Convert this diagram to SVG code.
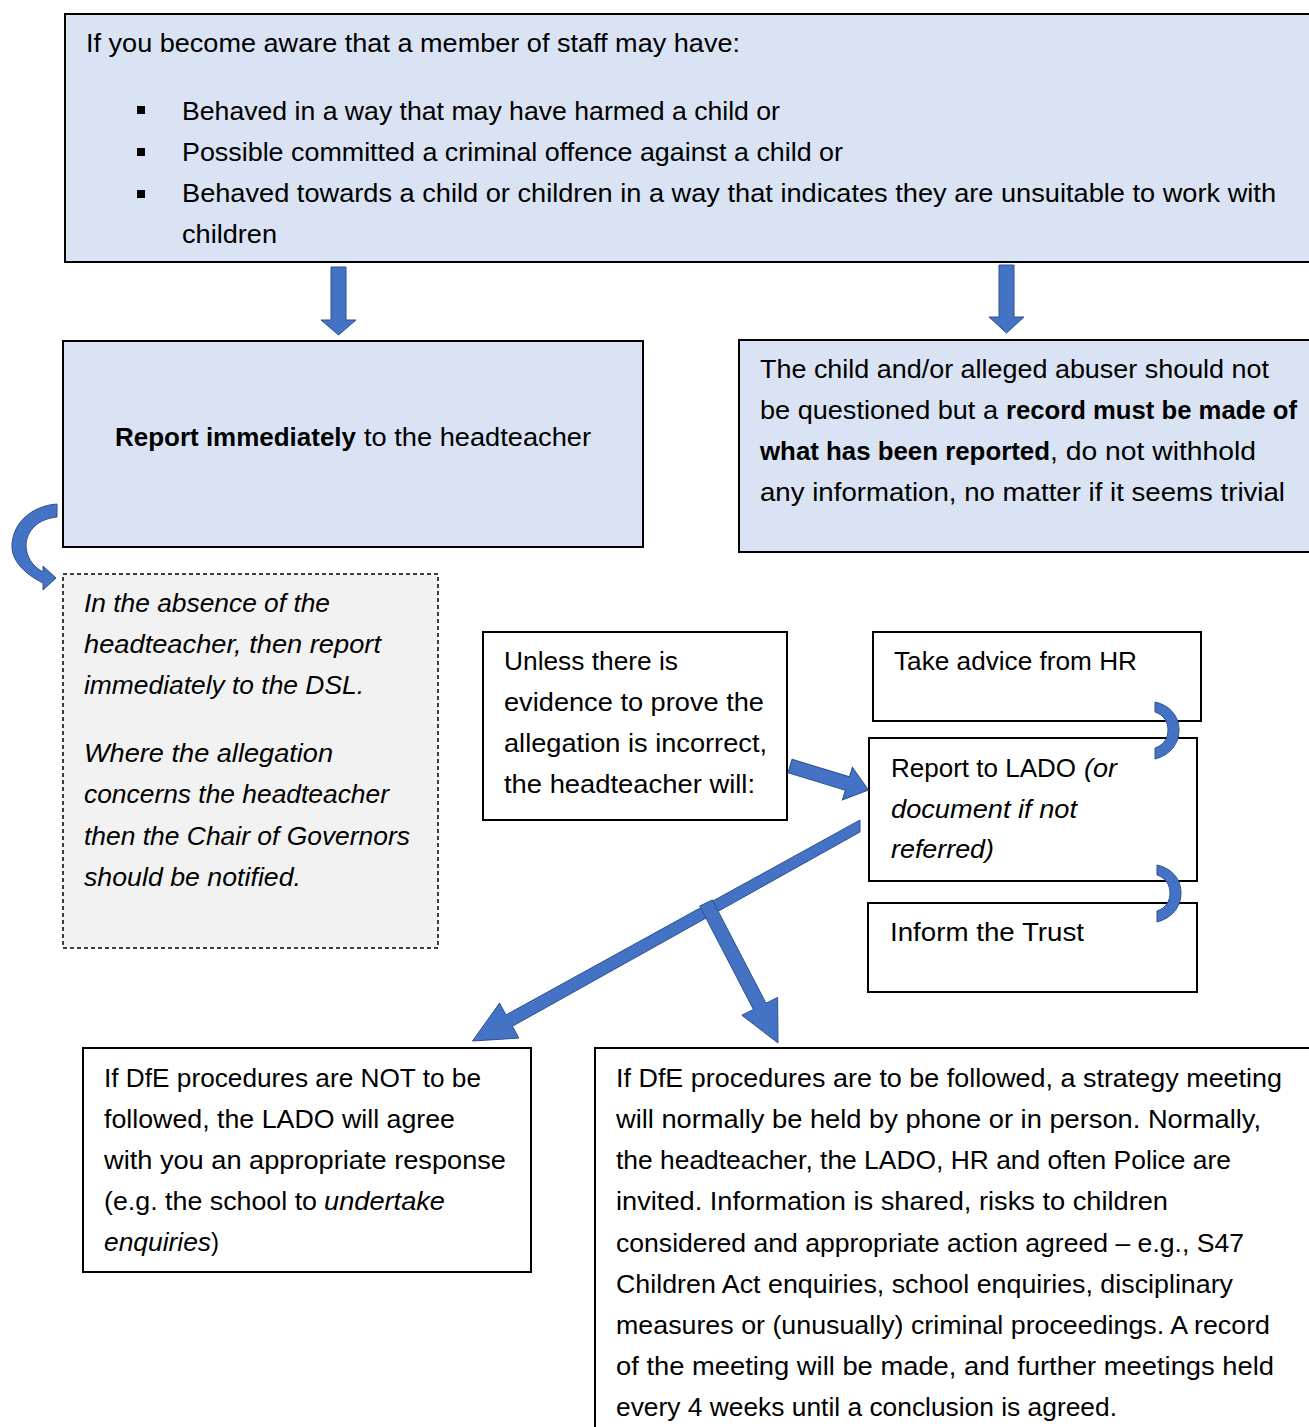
<svg xmlns="http://www.w3.org/2000/svg" width="1309" height="1427" viewBox="0 0 1309 1427">
<style>
text{font-family:"Liberation Sans",Arial,sans-serif;font-size:25px;fill:#000}
.b{font-weight:bold}
.i{font-style:italic}
.box{fill:#dae3f3;stroke:#000;stroke-width:2}
.wbox{fill:#fff;stroke:#000;stroke-width:2}
.dbox{fill:#f2f2f2;stroke:#000;stroke-width:1.5;stroke-dasharray:4 3}
.arr{fill:#4472c4;stroke:#2f528f;stroke-width:1}
</style>
<rect width="1309" height="1427" fill="#fff"/>

<g id="node-concern">
<rect class="box" x="65" y="14" width="1260" height="248"/>
<text x="86" y="52" textLength="654" lengthAdjust="spacingAndGlyphs">If you become aware that a member of staff may have:</text>
<rect x="137" y="106" width="8" height="8" fill="#000"/>
<rect x="137" y="148" width="8" height="8" fill="#000"/>
<rect x="137" y="190" width="8" height="8" fill="#000"/>
<text x="182" y="120" textLength="598" lengthAdjust="spacingAndGlyphs">Behaved in a way that may have harmed a child or</text>
<text x="182" y="161" textLength="661" lengthAdjust="spacingAndGlyphs">Possible committed a criminal offence against a child or</text>
<text x="182" y="202" textLength="1094" lengthAdjust="spacingAndGlyphs">Behaved towards a child or children in a way that indicates they are unsuitable to work with</text>
<text x="182" y="243" textLength="95" lengthAdjust="spacingAndGlyphs">children</text>
</g>

<g id="node-report">
<rect class="box" x="63" y="341" width="580" height="206"/>
<text class="b" x="115" y="446" textLength="241" lengthAdjust="spacingAndGlyphs">Report immediately</text>
<text x="364" y="446" textLength="227" lengthAdjust="spacingAndGlyphs">to the headteacher</text>
</g>

<g id="node-record">
<rect class="box" x="739" y="340" width="590" height="212"/>
<text x="760" y="378" textLength="509" lengthAdjust="spacingAndGlyphs">The child and/or alleged abuser should not</text>
<text x="760" y="419" textLength="238" lengthAdjust="spacingAndGlyphs">be questioned but a</text>
<text class="b" x="1006" y="419" textLength="291" lengthAdjust="spacingAndGlyphs">record must be made of</text>
<text class="b" x="760" y="460" textLength="290" lengthAdjust="spacingAndGlyphs">what has been reported</text>
<text x="1050" y="460" textLength="206" lengthAdjust="spacingAndGlyphs">, do not withhold</text>
<text x="760" y="501" textLength="525" lengthAdjust="spacingAndGlyphs">any information, no matter if it seems trivial</text>
</g>

<g id="node-absence">
<rect class="dbox" x="63" y="574" width="375" height="374"/>
<text class="i" x="84" y="612" textLength="246" lengthAdjust="spacingAndGlyphs">In the absence of the</text>
<text class="i" x="84" y="653" textLength="297" lengthAdjust="spacingAndGlyphs">headteacher, then report</text>
<text class="i" x="84" y="694" textLength="280" lengthAdjust="spacingAndGlyphs">immediately to the DSL.</text>
<text class="i" x="84" y="762" textLength="249" lengthAdjust="spacingAndGlyphs">Where the allegation</text>
<text class="i" x="84" y="803" textLength="305" lengthAdjust="spacingAndGlyphs">concerns the headteacher</text>
<text class="i" x="84" y="845" textLength="326" lengthAdjust="spacingAndGlyphs">then the Chair of Governors</text>
<text class="i" x="84" y="886" textLength="217" lengthAdjust="spacingAndGlyphs">should be notified.</text>
</g>

<g id="node-unless">
<rect class="wbox" x="483" y="632" width="304" height="188"/>
<text x="504" y="670" textLength="174" lengthAdjust="spacingAndGlyphs">Unless there is</text>
<text x="504" y="711" textLength="260" lengthAdjust="spacingAndGlyphs">evidence to prove the</text>
<text x="504" y="752" textLength="263" lengthAdjust="spacingAndGlyphs">allegation is incorrect,</text>
<text x="504" y="793" textLength="251" lengthAdjust="spacingAndGlyphs">the headteacher will:</text>
</g>

<g id="node-hr">
<rect class="wbox" x="873" y="632" width="328" height="89"/>
<text x="894" y="670" textLength="243" lengthAdjust="spacingAndGlyphs">Take advice from HR</text>
</g>

<g id="node-lado">
<rect class="wbox" x="869" y="738" width="328" height="143"/>
<text x="891" y="777" textLength="185" lengthAdjust="spacingAndGlyphs">Report to LADO</text>
<text class="i" x="1084" y="777" textLength="33" lengthAdjust="spacingAndGlyphs">(or</text>
<text class="i" x="891" y="818" textLength="186" lengthAdjust="spacingAndGlyphs">document if not</text>
<text class="i" x="891" y="858" textLength="103" lengthAdjust="spacingAndGlyphs">referred)</text>
</g>

<g id="node-trust">
<rect class="wbox" x="868" y="903" width="329" height="89"/>
<text x="890" y="941" textLength="194" lengthAdjust="spacingAndGlyphs">Inform the Trust</text>
</g>

<g id="node-not">
<rect class="wbox" x="83" y="1048" width="448" height="224"/>
<text x="104" y="1087" textLength="377" lengthAdjust="spacingAndGlyphs">If DfE procedures are NOT to be</text>
<text x="104" y="1128" textLength="351" lengthAdjust="spacingAndGlyphs">followed, the LADO will agree</text>
<text x="104" y="1169" textLength="402" lengthAdjust="spacingAndGlyphs">with you an appropriate response</text>
<text x="104" y="1210" textLength="213" lengthAdjust="spacingAndGlyphs">(e.g. the school to</text>
<text class="i" x="324" y="1210" textLength="121" lengthAdjust="spacingAndGlyphs">undertake</text>
<text class="i" x="104" y="1251" textLength="107" lengthAdjust="spacingAndGlyphs">enquiries</text>
<text x="211" y="1251" textLength="8" lengthAdjust="spacingAndGlyphs">)</text>
</g>

<g id="node-followed">
<rect class="wbox" x="595" y="1048" width="730" height="395"/>
<text x="616" y="1087" textLength="666" lengthAdjust="spacingAndGlyphs">If DfE procedures are to be followed, a strategy meeting</text>
<text x="616" y="1128" textLength="645" lengthAdjust="spacingAndGlyphs">will normally be held by phone or in person. Normally,</text>
<text x="616" y="1169" textLength="615" lengthAdjust="spacingAndGlyphs">the headteacher, the LADO, HR and often Police are</text>
<text x="616" y="1210" textLength="552" lengthAdjust="spacingAndGlyphs">invited. Information is shared, risks to children</text>
<text x="616" y="1252" textLength="628" lengthAdjust="spacingAndGlyphs">considered and appropriate action agreed – e.g., S47</text>
<text x="616" y="1293" textLength="617" lengthAdjust="spacingAndGlyphs">Children Act enquiries, school enquiries, disciplinary</text>
<text x="616" y="1334" textLength="654" lengthAdjust="spacingAndGlyphs">measures or (unusually) criminal proceedings. A record</text>
<text x="616" y="1375" textLength="658" lengthAdjust="spacingAndGlyphs">of the meeting will be made, and further meetings held</text>
<text x="616" y="1416" textLength="501" lengthAdjust="spacingAndGlyphs">every 4 weeks until a conclusion is agreed.</text>
</g>

<g id="connectors">
<polygon class="arr" points="331,267 346,267 346,320 356,320 338.5,335 321,320 331,320"/>
<polygon class="arr" points="999,265 1014,265 1014,317 1024,317 1006.5,333 989,317 999,317"/>
<path class="arr" d="M57,504 C30,506 11,525 12,548 C13,562 25,574 43,583 L43,590 L56,578 L43,566 L43,572 C32,566 26,556 26,545 C27,530 38,519 57,517 Z"/>
<polygon class="arr" transform="translate(790,766) rotate(17)" points="0,-7 60,-7 60,-17 82,0 60,17 60,7 0,7"/>
<polygon class="arr" points="860,820 506,1014.9 499.5,1003.1 472.5,1041 518.9,1038.1 512.4,1026.3 860,832"/>
<polygon class="arr" points="712.3,899.9 766,1003.2 777.6,997.4 778,1043 741.8,1015.2 753.4,1009.4 699.7,906.1"/>
<path class="arr" d="M1155,702 C1172,706 1179,718 1179,730 C1179,744 1170,755 1155,759 L1155,748 C1164,745 1168,738 1168,730 C1168,722 1164,715 1155,712 Z"/>
<path class="arr" d="M1157,865 C1174,869 1181,881 1181,893 C1181,907 1172,918 1157,922 L1157,911 C1166,908 1170,901 1170,893 C1170,885 1166,878 1157,875 Z"/>
</g>
</svg>
